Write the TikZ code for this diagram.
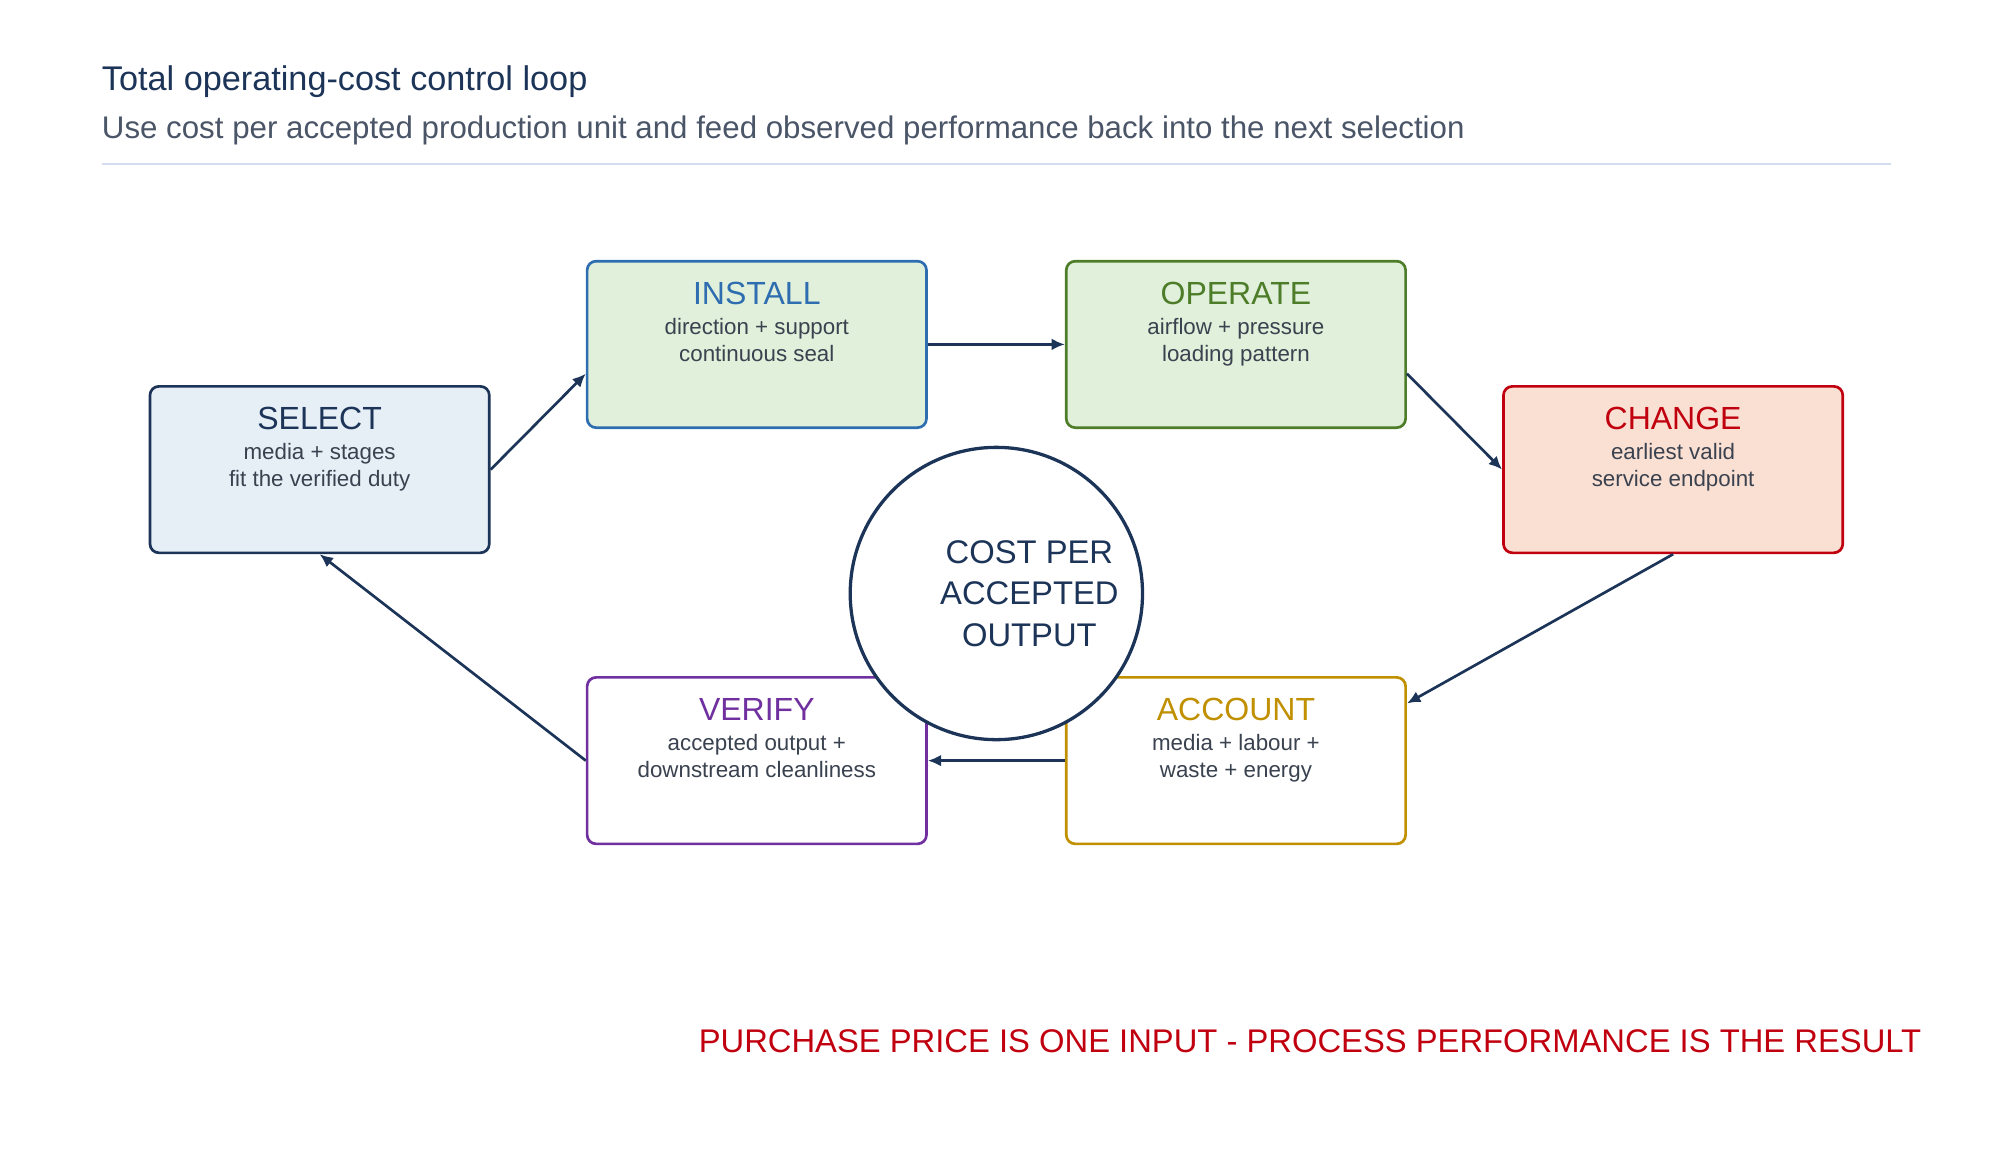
\documentclass[tikz,border=0pt]{standalone}
\usepackage{fontspec}
\setmainfont{Liberation Sans}
\usetikzlibrary{arrows.meta}
\definecolor{navy}{HTML}{1C3458}
\definecolor{txt}{HTML}{3A4250}
\definecolor{sub}{HTML}{4A5568}
\definecolor{cblue}{HTML}{2E6DB0}
\definecolor{cgreen}{HTML}{4E7D2A}
\definecolor{cred}{HTML}{C0000F}
\definecolor{cpurple}{HTML}{7030A0}
\definecolor{cgold}{HTML}{C09000}
\definecolor{fblue}{HTML}{E6EEF6}
\definecolor{fgreen}{HTML}{E1F0DA}
\definecolor{fred}{HTML}{FAE0D2}
\begin{document}
\begin{tikzpicture}[x=0.03cm,y=-0.03cm,
  box/.style={draw,line width=1.8pt,rounded corners=6pt,minimum width=267*0.03cm,minimum height=131*0.03cm,inner sep=0pt},
  ttl/.style={font=\fontsize{21.5}{26}\selectfont},
  st/.style={font=\fontsize{15}{18}\selectfont,text=txt,align=center},
  arr/.style={draw=navy,line width=1.8pt,-{Latex[length=9pt,width=8pt]}}]
\path[use as bounding box] (0,0) rectangle (1569,913);
\node[anchor=base west,inner sep=0pt,text=navy,font=\fontsize{23}{26}\selectfont] (t) at (80,71) {Total operating-cost control loop};
\node[anchor=base west,inner sep=0pt,text=sub,font=\fontsize{21}{26}\selectfont] (s) at (80,109) {Use cost per accepted production unit and feed observed performance back into the next selection};
\coordinate (l1) at (80,129); \coordinate (l2) at (1488,129);
\draw[color={rgb,255:red,213;green,220;blue,239},line width=1.2pt] (l1)--(l2);
\node[box,draw=navy,fill=fblue] (sel) at (251.5,369.5) {};
\node[box,draw=cblue,fill=fgreen] (ins) at (595.5,271) {};
\node[box,draw=cgreen,fill=fgreen] (ope) at (972.5,271) {};
\node[box,draw=cred,fill=fred] (chg) at (1316.5,369.5) {};
\node[box,draw=cpurple,fill=white] (ver) at (595.5,598.5) {};
\node[box,draw=cgold,fill=white] (acc) at (972.5,598.5) {};
\foreach \n/\t/\c/\a/\b in {sel/SELECT/navy/media + stages/fit the verified duty,
  ins/INSTALL/cblue/direction + support/continuous seal,
  ope/OPERATE/cgreen/airflow + pressure/loading pattern,
  chg/CHANGE/cred/earliest valid/service endpoint,
  ver/VERIFY/cpurple/accepted output +/downstream cleanliness,
  acc/ACCOUNT/cgold/media + labour +/waste + energy}{
  \node[ttl,text=\c,anchor=base] (\n t) at ([yshift=-1.05cm]\n.north) {\t};
  \node[st,anchor=north] (\n s) at ([yshift=-1.25cm]\n.north) {\a\\\b};
}
\draw[arr] (sel.east) -- ([yshift=-23*0.03cm]ins.west);
\draw[arr] (ins.east) -- (ope.west);
\draw[arr] ([yshift=-23*0.03cm]ope.east) -- (chg.west);
\draw[arr] (chg.south) -- ([yshift=1.35cm]acc.east);
\draw[arr] (acc.west) -- (ver.west -| ver.east);
\draw[arr] (ver.west) -- (sel.south);
\node[circle,draw=navy,fill=white,line width=2.2pt,minimum size=230*0.03cm] (c) at (784,467) {};
\node[align=center,text=navy,font=\fontsize{22}{28}\selectfont] (ct) at (810,467) {COST PER\\ACCEPTED\\OUTPUT};
\node[anchor=base east,inner sep=0pt,text=cred,font=\fontsize{22}{26}\selectfont] (r) at (1512,828) {PURCHASE PRICE IS ONE INPUT - PROCESS PERFORMANCE IS THE RESULT};
\end{tikzpicture}
\end{document}
